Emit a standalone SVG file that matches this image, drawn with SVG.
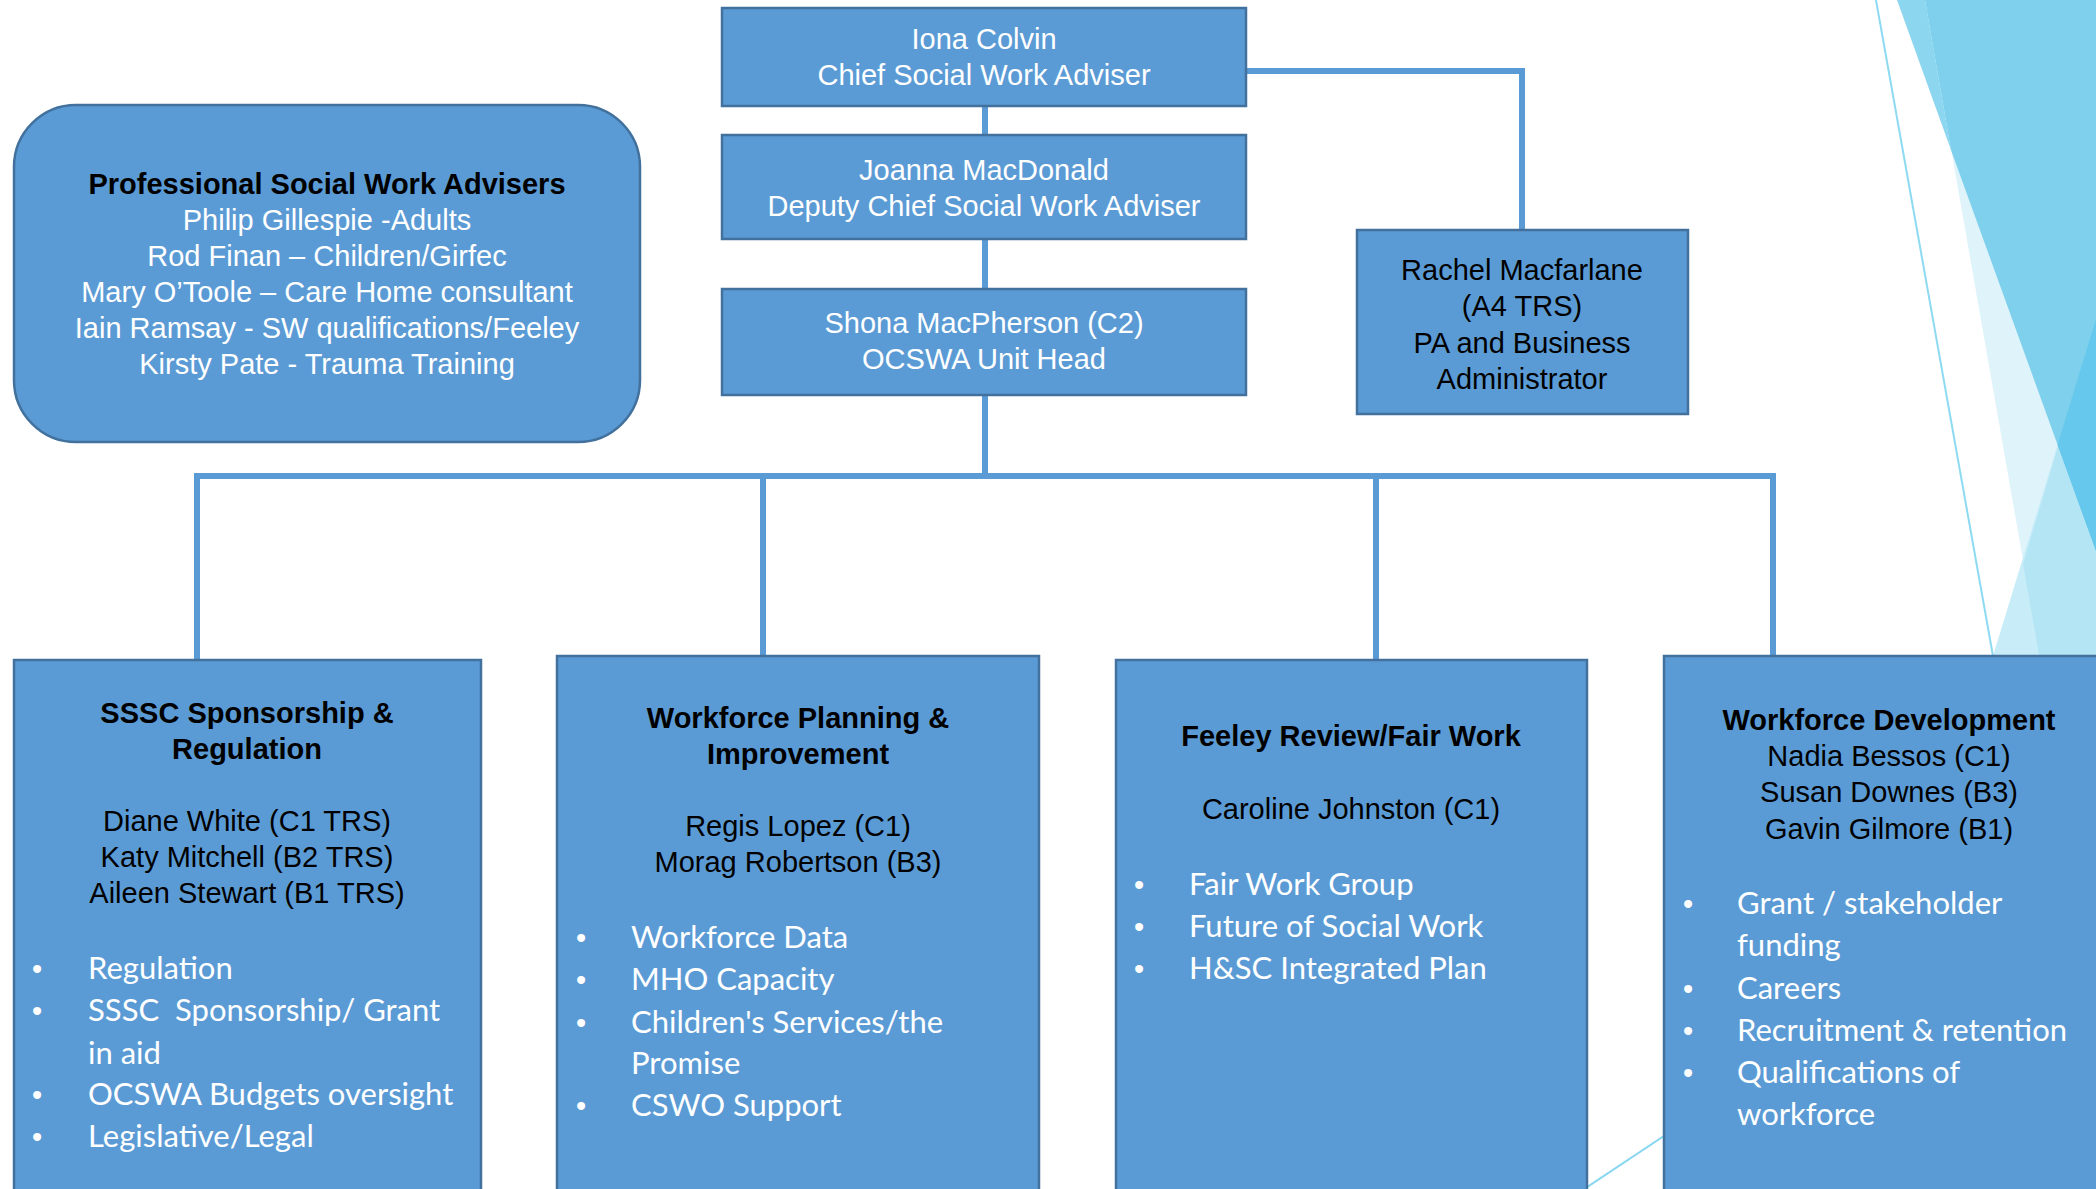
<svg xmlns="http://www.w3.org/2000/svg" width="2096" height="1189" viewBox="0 0 2096 1189">
<style>
.box{fill:#5B9BD5;stroke:#41719C;stroke-width:2.5}
.conn{fill:none;stroke:#5B9BD5;stroke-width:6;stroke-linecap:square}
.a{font-family:"Liberation Sans",Arial,sans-serif;font-size:29px;text-anchor:middle}
.b{font-weight:bold}
.w{fill:#FFFFFF}
.k{fill:#000000}
.c{font-family:Lato,"Open Sans",sans-serif;font-size:31px;fill:#FFFFFF}
.dot{font-family:"Liberation Sans",Arial,sans-serif;font-size:29px;fill:#FFFFFF;text-anchor:middle}
</style>
<rect width="2096" height="1189" fill="#FFFFFF"/>
<g id="background">
<polygon points="1925,0 2096,0 2096,1189 2133,1189" fill="#DFF3FA"/>
<polygon points="2096,319 2096,1189 1830,1189" fill="#C9EDF8"/>
<polygon points="2096,319 2096,1189 2133,1189 2023,564" fill="#B3E5F5"/>
<polygon points="1897,0 1925,0 1951,150" fill="#8DD6EF"/>
<polygon points="1925,0 2096,0 2096,551 1951,150" fill="#7ED0EC"/>
<polygon points="2096,319 2096,551 2057.6,444.7" fill="#65C8EC"/>
<line x1="1876" y1="0" x2="1993" y2="656" stroke="#8EDAF2" stroke-width="2"/>
<line x1="1500" y1="1245" x2="1700" y2="1112" stroke="#86D6F0" stroke-width="2"/>
</g>
<g id="connectors">
<line class="conn" x1="985" y1="106" x2="985" y2="135"/>
<line class="conn" x1="985" y1="239" x2="985" y2="289"/>
<polyline class="conn" points="1246,71 1522,71 1522,230"/>
<line class="conn" x1="985" y1="395" x2="985" y2="476"/>
<line class="conn" x1="197" y1="476" x2="1773" y2="476"/>
<line class="conn" x1="197" y1="476" x2="197" y2="660"/>
<line class="conn" x1="763" y1="476" x2="763" y2="656"/>
<line class="conn" x1="1376" y1="476" x2="1376" y2="660"/>
<line class="conn" x1="1773" y1="476" x2="1773" y2="656"/>
</g>
<g id="iona">
<rect class="box" x="722" y="8" width="524" height="98"/>
<text class="a w" x="984" y="49">Iona Colvin</text>
<text class="a w" x="984" y="85">Chief Social Work Adviser</text>
</g>
<g id="joanna">
<rect class="box" x="722" y="135" width="524" height="104"/>
<text class="a w" x="984" y="180">Joanna MacDonald</text>
<text class="a w" x="984" y="216">Deputy Chief Social Work Adviser</text>
</g>
<g id="shona">
<rect class="box" x="722" y="289" width="524" height="106"/>
<text class="a w" x="984" y="333">Shona MacPherson (C2)</text>
<text class="a w" x="984" y="369">OCSWA Unit Head</text>
</g>
<g id="rachel">
<rect class="box" x="1357" y="230" width="331" height="184"/>
<text class="a k" x="1522" y="280">Rachel Macfarlane</text>
<text class="a k" x="1522" y="316">(A4 TRS)</text>
<text class="a k" x="1522" y="353">PA and Business</text>
<text class="a k" x="1522" y="389">Administrator</text>
</g>
<g id="advisers">
<rect class="box" x="14" y="105" width="626" height="337" rx="62" ry="62"/>
<text class="a b k" x="327" y="194">Professional Social Work Advisers</text>
<text class="a w" x="327" y="230">Philip Gillespie -Adults</text>
<text class="a w" x="327" y="266">Rod Finan – Children/Girfec</text>
<text class="a w" x="327" y="302">Mary O’Toole – Care Home consultant</text>
<text class="a w" x="327" y="338">Iain Ramsay - SW qualifications/Feeley</text>
<text class="a w" x="327" y="374">Kirsty Pate - Trauma Training</text>
</g>
<g id="sssc">
<rect class="box" x="14" y="660" width="467" height="540"/>
<text class="a b k" x="247" y="723">SSSC Sponsorship &amp;</text>
<text class="a b k" x="247" y="759">Regulation</text>
<text class="a k" x="247" y="831">Diane White (C1 TRS)</text>
<text class="a k" x="247" y="867">Katy Mitchell (B2 TRS)</text>
<text class="a k" x="247" y="903">Aileen Stewart (B1 TRS)</text>
<text class="dot" x="37" y="979">•</text>
<text class="c" x="88" y="979">Regulation</text>
<text class="dot" x="37" y="1021">•</text>
<text class="c" x="88" y="1021" xml:space="preserve">SSSC  Sponsorship/ Grant</text>
<text class="c" x="88" y="1064">in aid</text>
<text class="dot" x="37" y="1105">•</text>
<text class="c" x="88" y="1105">OCSWA Budgets oversight</text>
<text class="dot" x="37" y="1147">•</text>
<text class="c" x="88" y="1147">Legislative/Legal</text>
</g>
<g id="planning">
<rect class="box" x="557" y="656" width="482" height="544"/>
<text class="a b k" x="798" y="728">Workforce Planning &amp;</text>
<text class="a b k" x="798" y="764">Improvement</text>
<text class="a k" x="798" y="836">Regis Lopez (C1)</text>
<text class="a k" x="798" y="872">Morag Robertson (B3)</text>
<text class="dot" x="581" y="948">•</text>
<text class="c" x="631" y="948">Workforce Data</text>
<text class="dot" x="581" y="990">•</text>
<text class="c" x="631" y="990">MHO Capacity</text>
<text class="dot" x="581" y="1033">•</text>
<text class="c" x="631" y="1033">Children's Services/the</text>
<text class="c" x="631" y="1074">Promise</text>
<text class="dot" x="581" y="1116">•</text>
<text class="c" x="631" y="1116">CSWO Support</text>
</g>
<g id="feeley">
<rect class="box" x="1116" y="660" width="471" height="540"/>
<text class="a b k" x="1351" y="746">Feeley Review/Fair Work</text>
<text class="a k" x="1351" y="819">Caroline Johnston (C1)</text>
<text class="dot" x="1139" y="895">•</text>
<text class="c" x="1189" y="895">Fair Work Group</text>
<text class="dot" x="1139" y="937">•</text>
<text class="c" x="1189" y="937">Future of Social Work</text>
<text class="dot" x="1139" y="979">•</text>
<text class="c" x="1189" y="979">H&amp;SC Integrated Plan</text>
</g>
<g id="development">
<rect class="box" x="1664" y="656" width="440" height="544"/>
<text class="a b k" x="1889" y="730">Workforce Development</text>
<text class="a k" x="1889" y="766">Nadia Bessos (C1)</text>
<text class="a k" x="1889" y="802">Susan Downes (B3)</text>
<text class="a k" x="1889" y="839">Gavin Gilmore (B1)</text>
<text class="dot" x="1688" y="914">•</text>
<text class="c" x="1737" y="914">Grant / stakeholder</text>
<text class="c" x="1737" y="956">funding</text>
<text class="dot" x="1688" y="999">•</text>
<text class="c" x="1737" y="999">Careers</text>
<text class="dot" x="1688" y="1041">•</text>
<text class="c" x="1737" y="1041">Recruitment &amp; retention</text>
<text class="dot" x="1688" y="1083">•</text>
<text class="c" x="1737" y="1083">Qualifications of</text>
<text class="c" x="1737" y="1125">workforce</text>
</g>
</svg>
